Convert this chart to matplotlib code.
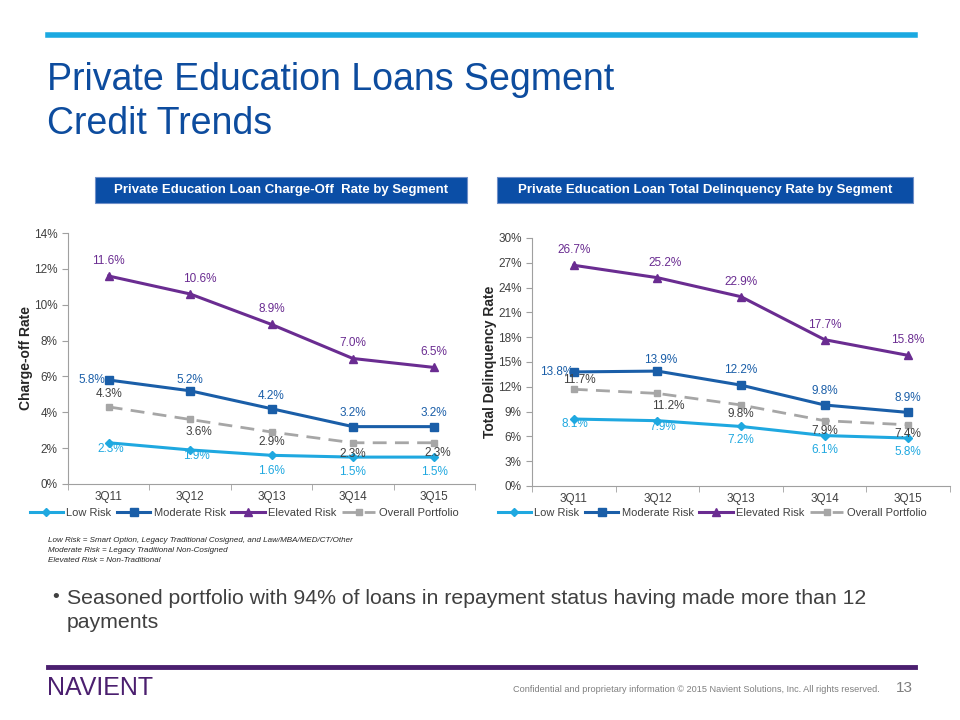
import matplotlib
matplotlib.use('Agg')
import matplotlib.pyplot as plt
from matplotlib.lines import Line2D
from matplotlib.patches import Rectangle

plt.rcParams['font.family'] = ['Liberation Sans', 'DejaVu Sans']

quarters = ['3Q11', '3Q12', '3Q13', '3Q14', '3Q15']
series_names = ['Low Risk', 'Moderate Risk', 'Elevated Risk', 'Overall Portfolio']

# charge-off rate (%)
co_low = [2.3, 1.9, 1.6, 1.5, 1.5]
co_moderate = [5.8, 5.2, 4.2, 3.2, 3.2]
co_elevated = [11.6, 10.6, 8.9, 7.0, 6.5]
co_overall = [4.3, 3.6, 2.9, 2.3, 2.3]

# total delinquency rate (%)
dq_low = [8.1, 7.9, 7.2, 6.1, 5.8]
dq_moderate = [13.8, 13.9, 12.2, 9.8, 8.9]
dq_elevated = [26.7, 25.2, 22.9, 17.7, 15.8]
dq_overall = [11.7, 11.2, 9.8, 7.9, 7.4]

co_yticks = [0, 2, 4, 6, 8, 10, 12, 14]
dq_yticks = [0, 3, 6, 9, 12, 15, 18, 21, 24, 27, 30]

footnotes = ['Low Risk = Smart Option, Legacy Traditional Cosigned, and Law/MBA/MED/CT/Other',
             'Moderate Risk = Legacy Traditional Non-Cosigned',
             'Elevated Risk = Non-Traditional']

# styles: color, marker, marker size, linestyle, label color
styles = [
    ('#1fa8e0', 'D', 4, '-', '#1fa8e0'),
    ('#1a5ea8', 's', 6, '-', '#1a5ea8'),
    ('#6a2c91', '^', 6, '-', '#6a2c91'),
    ('#a6a6a6', 's', 5, (0, (5, 3)), '#404040'),
]

# label offsets in pixels (dx, dy) per point
co_offsets = [
    [(2, -6), (6, -6), (0, -16), (0, -15), (0, -15)],
    [(-17, 0), (0, 11), (0, 13), (0, 14), (0, 14)],
    [(0, 15), (10, 15), (0, 15), (0, 15), (0, 15)],
    [(0, 13), (9, -13), (0, -10), (0, -11), (3, -10)],
]
dq_offsets = [
    [(1, -5), (5, -6), (0, -14), (0, -14), (0, -14)],
    [(-17, 0), (3, 11), (0, 15), (0, 14), (0, 14)],
    [(0, 15), (8, 15), (0, 15), (0, 15), (0, 15)],
    [(6, 9), (11, -13), (0, -9), (0, -10), (0, -9)],
]

fig = plt.figure(figsize=(9.6, 7.2), dpi=100)
W, H = 960, 720


def fx(px):
    return px / W


def fy(py):
    return 1 - py / H


# top rule, title
fig.add_artist(Line2D([fx(48), fx(915)], [fy(35), fy(35)], color='#1ba9e1', lw=4))
fig.text(fx(47), fy(80), 'Private Education Loans Segment', color='#0d4c9e',
         fontsize=27, va='center', ha='left')
fig.text(fx(47), fy(124), 'Credit Trends', color='#0d4c9e',
         fontsize=27, va='center', ha='left')

# header boxes
for x0, x1, txt in [(95, 467, 'Private Education Loan Charge-Off  Rate by Segment'),
                    (497, 913, 'Private Education Loan Total Delinquency Rate by Segment')]:
    fig.add_artist(Rectangle((fx(x0), fy(203)), fx(x1) - fx(x0), fy(177) - fy(203),
                             transform=fig.transFigure, facecolor='#0b4ea6',
                             edgecolor='#6f8fc8', lw=0.8))
    fig.text(fx((x0 + x1) / 2), fy(190), txt, color='white', fontsize=9.5,
             fontweight='bold', ha='center', va='center')


def draw_chart(rect, data, offsets, yticks, ylabel, legend_x):
    ax = fig.add_axes(rect)
    x = range(len(quarters))
    for vals, (c, m, ms, ls, lc), offs, name in zip(data, styles, offsets, series_names):
        ax.plot(x, vals, color=c, lw=2.2 if name != 'Overall Portfolio' else 2,
                linestyle=ls, marker=m, markersize=ms, markerfacecolor=c,
                markeredgecolor=c, label=name, zorder=3)
        for xi, v, (dx, dy) in zip(x, vals, offs):
            ax.annotate(f'{v:.1f}%', (xi, v), xytext=(dx, dy), textcoords='offset pixels',
                        ha='center', va='center', fontsize=8.5, color=lc, zorder=4)
    ax.set_xlim(-0.5, len(quarters) - 0.5)
    ax.set_ylim(yticks[0], yticks[-1])
    ax.set_yticks(yticks)
    ax.set_yticklabels([f'{t}%' for t in yticks])
    ax.set_xticks(list(x))
    ax.set_xticklabels(quarters)
    ax.set_xticks([i - 0.5 for i in range(len(quarters) + 1)], minor=True)
    ax.tick_params(axis='x', which='major', length=0, pad=5, labelsize=8.5, labelcolor='#404040')
    ax.tick_params(axis='x', which='minor', length=4, color='#a0a0a0')
    ax.tick_params(axis='y', length=4, color='#a0a0a0', labelsize=8.5, labelcolor='#404040')
    for s in ['top', 'right']:
        ax.spines[s].set_visible(False)
    for s in ['left', 'bottom']:
        ax.spines[s].set_color('#a0a0a0')
    ax.set_ylabel(ylabel, fontsize=10, fontweight='bold', color='#262626', labelpad=1)
    ax.legend(loc='center', bbox_to_anchor=(legend_x, fy(513)), bbox_transform=fig.transFigure,
              ncol=4, frameon=False, fontsize=8, handlelength=3.0, columnspacing=0.5,
              handletextpad=0.3, labelcolor='#404040', borderpad=0, borderaxespad=0)
    return ax


draw_chart([fx(68), fy(484), fx(475) - fx(68), fy(233) - fy(484)],
           [co_low, co_moderate, co_elevated, co_overall], co_offsets,
           co_yticks, 'Charge-off Rate', fx(244))
draw_chart([fx(532), fy(486), fx(950) - fx(532), fy(238) - fy(486)],
           [dq_low, dq_moderate, dq_elevated, dq_overall], dq_offsets,
           dq_yticks, 'Total Delinquency Rate', fx(712))

# footnotes
for i, line in enumerate(footnotes):
    fig.text(fx(48), fy(540 + i * 10), line, fontsize=5.8, style='italic',
             color='#262626', va='center')

# bullet
fig.text(fx(52), fy(598), '\u2022', fontsize=14, color='#404040', va='center')
fig.text(fx(67), fy(598), 'Seasoned portfolio with 94% of loans in repayment status having made more than 12',
         fontsize=15.3, color='#404040', va='center')
fig.text(fx(67), fy(622), 'payments', fontsize=15.3, color='#404040', va='center')

# footer
fig.add_artist(Line2D([fx(48), fx(915)], [fy(667), fy(667)], color='#4b1f6f', lw=3.5))
fig.text(fx(47), fy(688), 'NAVIENT', fontsize=18, color='#4b1f6f', va='center')
fig.text(fx(880), fy(690), 'Confidential and proprietary information \u00a9 2015 Navient Solutions, Inc. All rights reserved.',
         fontsize=6.6, color='#7f7f7f', va='center', ha='right')
fig.text(fx(913), fy(688), '13', fontsize=11, color='#7f7f7f', va='center', ha='right')

fig.savefig('out.png', dpi=100)
